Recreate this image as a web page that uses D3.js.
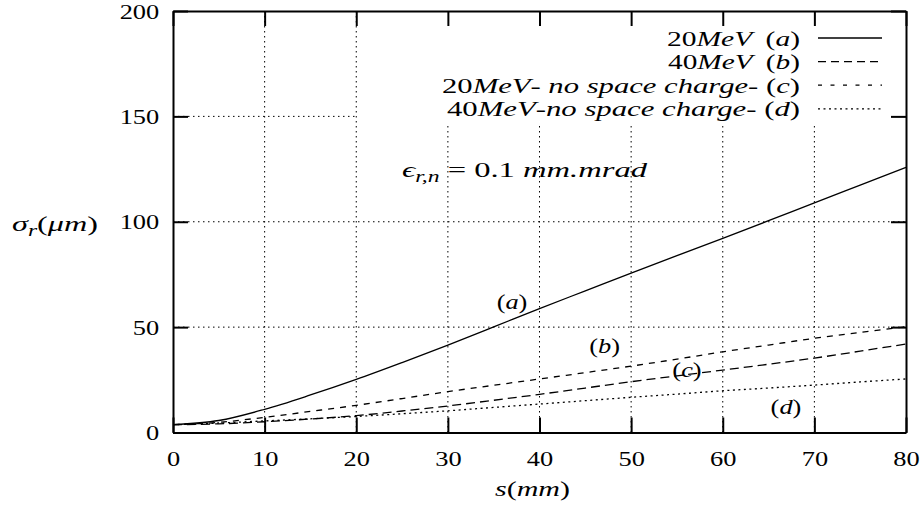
<!DOCTYPE html>
<html>
<head>
<meta charset="utf-8">
<script src="https://cdn.jsdelivr.net/npm/d3@7"></script>
<style>
	body { margin: 0; background: #fff; }
	svg text { font-family: "Liberation Serif", "DejaVu Serif", serif; font-size: 22px; fill: #000; }
</style>
</head>
<body>
<svg id="chart" width="922" height="512"></svg>
<script>
// beam size along s, every 5 mm
const sValues = [0, 5, 10, 15, 20, 25, 30, 35, 40, 45, 50, 55, 60, 65, 70, 75, 80];
const sigma20 = [3.7, 5.7, 11.0, 17.8, 25.2, 33.2, 41.5, 50.1, 58.8, 67.2, 75.6, 83.9, 92.1, 100.5, 109.0, 117.4, 125.8];
const sigma40 = [3.7, 4.1, 5.1, 6.4, 8.0, 10.2, 12.6, 15.3, 18.1, 21.1, 24.1, 26.9, 29.6, 32.4, 35.3, 38.6, 42.0];
const sigma20noSC = [3.7, 4.8, 7.2, 10.0, 12.9, 16.1, 19.4, 22.4, 25.4, 28.4, 31.5, 34.8, 38.3, 41.5, 44.7, 47.5, 50.2];
const sigma40noSC = [3.7, 4.5, 5.5, 6.5, 7.6, 8.9, 10.3, 11.9, 13.5, 15.1, 16.7, 18.2, 19.8, 21.1, 22.5, 24.0, 25.4];

const xTicks = [0, 10, 20, 30, 40, 50, 60, 70, 80];
const yTicks = [0, 50, 100, 150, 200];
const xGrid = [10, 20, 30, 40, 50, 60, 70];
const yGrid = [50, 100, 150];

// legend texts, split in roman ("r") and italic ("i") pieces
const legendTexts = [
	[["20", "r"], ["MeV", "i"], ["\u2009 (", "r"], ["a", "i"], [")", "r"]],
	[["40", "r"], ["MeV", "i"], ["\u2009 (", "r"], ["b", "i"], [")", "r"]],
	[["20", "r"], ["MeV", "i"], ["- ", "r"], ["no space charge", "i"], ["- (", "r"], ["c", "i"], [")", "r"]],
	[["40", "r"], ["MeV", "i"], ["-", "r"], ["no space charge", "i"], ["- (", "r"], ["d", "i"], [")", "r"]]
];
const legendWidths = [133, 132, 358, 353];
const curveLabels = ["a", "b", "c", "d"];

const stretch = 1.2;
const fontFamily = "'Liberation Serif', 'DejaVu Serif', serif";

const margin = { top: 11, right: 16, bottom: 79.5, left: 173 };
const width = 922 - margin.left - margin.right;
const height = 512 - margin.top - margin.bottom;

const svg = d3.select("#chart");

const x = d3.scaleLinear().domain([0, 80]).range([margin.left, margin.left + width]);
const y = d3.scaleLinear().domain([0, 200]).range([margin.top + height, margin.top]);

// text with math style pieces, stretched a bit to look like the latex output
function tex(parent, px, py, anchor, parts, len) {
	var t = parent.append("text")
		.attr("transform", "translate(" + px + "," + py + ") scale(" + stretch + ",1)")
		.attr("font-family", fontFamily)
		.attr("font-size", 22)
		.attr("text-anchor", anchor);
	if (len) {
		t.attr("textLength", len / stretch).attr("lengthAdjust", "spacingAndGlyphs");
	}
	var shifted = 0;
	parts.forEach(function(p) {
		var span = t.append("tspan").text(p[0]);
		if (p[1] == "i" || p[1] == "sub") span.attr("font-style", "italic");
		if (p[1] == "sub") {
			span.attr("font-size", 16).attr("dy", 5);
			shifted = 5;
		}
		else if (shifted) {
			span.attr("dy", -shifted);
			shifted = 0;
		}
	});
	return t;
}

// grid
const grid = svg.append("g")
	.attr("stroke", "#000")
	.attr("stroke-width", 1)
	.attr("stroke-dasharray", "1.5,3.5");
grid.selectAll(".vgrid").data(xGrid).enter().append("line")
	.attr("x1", d => x(d)).attr("x2", d => x(d))
	.attr("y1", y(0)).attr("y2", y(200));
grid.selectAll(".hgrid").data(yGrid).enter().append("line")
	.attr("x1", x(0)).attr("x2", x(80))
	.attr("y1", d => y(d)).attr("y2", d => y(d));

// key area clears the grid behind it
svg.append("rect")
	.attr("x", x(20) + 1)
	.attr("y", y(200))
	.attr("width", x(80) - x(20) - 1)
	.attr("height", y(146) - y(200))
	.attr("fill", "#fff");

// curves
const series = [
	{ values: sigma20, dash: null },
	{ values: sigma40, dash: "9,5" },
	{ values: sigma20noSC, dash: "6,6" },
	{ values: sigma40noSC, dash: "2,3.5" }
];
const line = d3.line()
	.x(d => x(d[0]))
	.y(d => y(d[1]))
	.curve(d3.curveCatmullRom.alpha(0.5));

series.forEach(function(ser) {
	svg.append("path")
		.datum(sValues.map((s, i) => [s, ser.values[i]]))
		.attr("d", line)
		.attr("fill", "none")
		.attr("stroke", "#000")
		.attr("stroke-width", 1.3)
		.attr("stroke-dasharray", ser.dash);
});

// axes, ticks pointing inwards, mirrored on top and right
function styleAxis(g) {
	g.attr("font-family", fontFamily).attr("font-size", 22);
	g.select(".domain").attr("stroke-width", 2);
	g.selectAll(".tick line").attr("stroke-width", 2);
	g.selectAll("text")
		.attr("fill", "#000")
		.attr("transform", "scale(" + stretch + ",1)");
}

svg.append("g")
	.attr("transform", "translate(0," + y(0) + ")")
	.call(d3.axisBottom(x).tickValues(xTicks).tickSize(-15).tickSizeOuter(0).tickPadding(18))
	.call(styleAxis);

svg.append("g")
	.attr("transform", "translate(" + x(0) + ",0)")
	.call(d3.axisLeft(y).tickValues(yTicks).tickSize(-15).tickSizeOuter(0).tickPadding(11.5))
	.call(styleAxis);

svg.append("g")
	.attr("transform", "translate(0," + y(200) + ")")
	.call(d3.axisTop(x).tickValues(xTicks).tickSize(-15).tickSizeOuter(0).tickFormat(""))
	.call(styleAxis);

svg.append("g")
	.attr("transform", "translate(" + x(80) + ",0)")
	.call(d3.axisRight(y).tickValues(yTicks).tickSize(-15).tickSizeOuter(0).tickFormat(""))
	.call(styleAxis);

// axis titles
tex(svg, 12, 231, "start", [["\u03C3", "i"], ["r", "sub"], ["(", "r"], ["\u03BCm", "i"], [")", "r"]], 86);
tex(svg, 495, 496, "start", [["s", "i"], ["(", "r"], ["mm", "i"], [")", "r"]], 75);

// emittance note
tex(svg, x(25), y(121.2), "start",
	[["\u03F5", "i"], ["r,n", "sub"], [" = 0.1 ", "r"], ["mm.mrad", "i"]], 245);

// legend
const legend = svg.append("g");
legendTexts.forEach(function(parts, i) {
	var base = 45.5 + i * 23.6;
	tex(legend, 800 - legendWidths[i], base, "start", parts, legendWidths[i]);
	legend.append("line")
		.attr("x1", 818).attr("x2", 882)
		.attr("y1", base - 7.5).attr("y2", base - 7.5)
		.attr("stroke", "#000")
		.attr("stroke-width", 1.3)
		.attr("stroke-dasharray", [null, "8,5", "4,8.5", "2,3.5"][i]);
});

// curve labels inside the plot
const labelPos = [[37, 58.6], [47.1, 37.7], [56.1, 26.3], [66.9, 8.8]];
curveLabels.forEach(function(c, i) {
	tex(svg, x(labelPos[i][0]), y(labelPos[i][1]), "middle", [["(", "r"], [c, "i"], [")", "r"]]);
});
</script>
</body>
</html>
